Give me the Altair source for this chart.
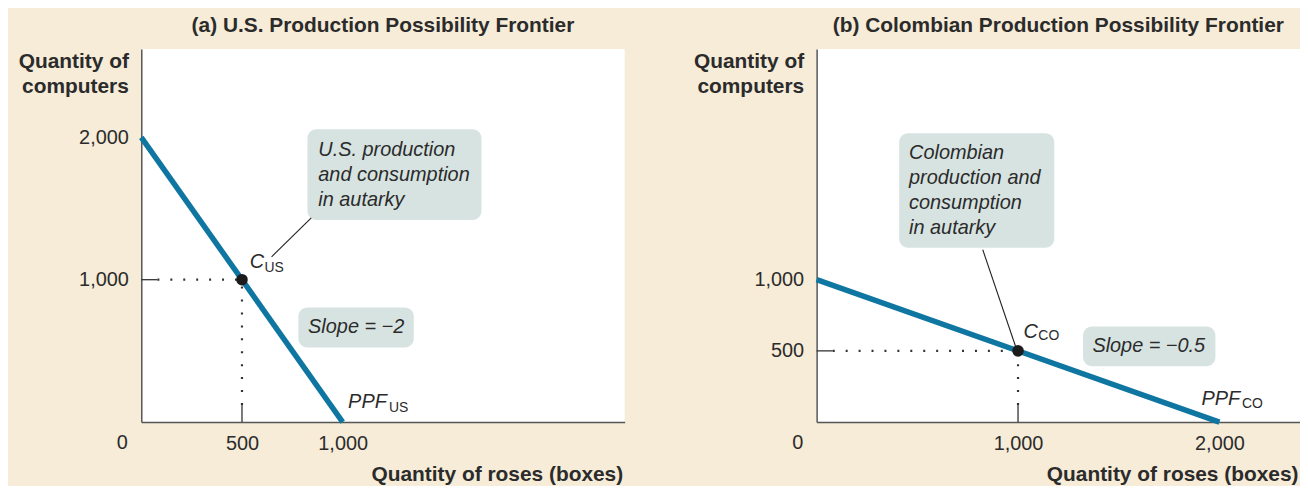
import altair as alt
import pandas as pd

FONT = "Liberation Sans"
BG = "#F6ECD8"
BLUE = "#0E76A0"
BOXC = "#D7E3E1"
INK = "#2B2B2B"

x_domain = [0, 2400]
y_domain = [0, 2620]

# ---------- Panel (a): U.S. ----------
us_title = "(a) U.S. Production Possibility Frontier"
us_ppf_roses = [0, 1000]
us_ppf_computers = [2000, 0]
us_point = [500, 1000]
us_x_ticks = [500, 1000]
us_y_ticks = [1000, 2000]
us_note_lines = ["U.S. production", "and consumption", "in autarky"]
us_note_line_y = [1909, 1734, 1559]
us_note_x = 879
us_box_x = [825, 1689]
us_box_y = [1420, 2056]
us_slope_box_x = [780, 1353]
us_slope_box_y = [524, 804]
us_slope_label = "Slope = \u22122"
us_slope_pos = [1067, 664]
us_leader = [844, 1434, 647, 1161]
us_c_pos = [538, 1126]
us_c_sub_pos = [612, 1084]
us_ppf_pos = [1027, 140]
us_ppf_sub_pos = [1230, 98]
us_sub = "US"

# ---------- Panel (b): Colombia ----------
co_title = "(b) Colombian Production Possibility Frontier"
co_ppf_roses = [0, 2000]
co_ppf_computers = [1000, 0]
co_point = [1000, 500]
co_x_ticks = [1000, 2000]
co_y_ticks = [500, 1000]
co_note_lines = ["Colombian", "production and", "consumption", "in autarky"]
co_note_line_y = [1888, 1713, 1538, 1364]
co_note_x = 459
co_box_x = [410, 1180]
co_box_y = [1224, 2028]
co_slope_box_x = [1323, 1980]
co_slope_box_y = [392, 671]
co_slope_label = "Slope = \u22120.5"
co_slope_pos = [1649, 531]
co_leader = [825, 1210, 988, 531]
co_c_pos = [1027, 629]
co_c_sub_pos = [1101, 601]
co_ppf_pos = [1911, 161]
co_ppf_sub_pos = [2112, 126]
co_sub = "CO"

tick_len_x = 80    # short solid stub along y-axis (roses units)
tick_len_y = 120   # short solid stub along x-axis (computer units)


def make_panel(title, ppf_x, ppf_y, pt, xt, yt, note_lines, note_ys, note_x,
               box_x, box_y, sbox_x, sbox_y, slope_label, slope_pos, leader,
               c_pos, c_sub_pos, ppf_pos, ppf_sub_pos, sub):
    xs = alt.Scale(domain=x_domain, nice=False, zero=True)
    ys = alt.Scale(domain=y_domain, nice=False, zero=True)
    xa = alt.Axis(values=xt, format=",d", title="Quantity of roses (boxes)", ticks=False, grid=False,
                  labelFont=FONT, labelFontSize=20, labelColor=INK, labelPadding=12,
                  labelOverlap=False, domainColor="#555555", domainWidth=1.5,
                  titleFont=FONT, titleFontSize=21, titleFontWeight="bold", titleColor=INK,
                  titleAlign="right", titleBaseline="alphabetic", titleX=484, titleY=59,
                  titleAnchor="end")
    ya = alt.Axis(values=yt, format=",d", title=["Quantity of", "computers"], ticks=False, grid=False,
                  labelFont=FONT, labelFontSize=20, labelColor=INK, labelPadding=13,
                  labelOverlap=False, domainColor="#555555", domainWidth=1.5,
                  titleFont=FONT, titleFontSize=21, titleFontWeight="bold", titleColor=INK,
                  titleAngle=0, titleAlign="right", titleBaseline="top",
                  titleX=-13, titleY=2, titleLineHeight=25)

    def X(f):
        return alt.X(f, type="quantitative", scale=xs, axis=xa)

    def Y(f):
        return alt.Y(f, type="quantitative", scale=ys, axis=ya)

    boxes = pd.DataFrame({"x": [box_x[0], sbox_x[0]], "x2": [box_x[1], sbox_x[1]],
                          "y": [box_y[0], sbox_y[0]], "y2": [box_y[1], sbox_y[1]]})
    box_layer = alt.Chart(boxes).mark_rect(color=BOXC, cornerRadius=9).encode(
        x=X("x"), x2="x2:Q", y=Y("y"), y2="y2:Q")

    ppf = pd.DataFrame({"x": ppf_x, "y": ppf_y})
    line_layer = alt.Chart(ppf).mark_line(color=BLUE, strokeWidth=5.5, strokeCap="butt").encode(
        x=X("x"), y=Y("y"))

    # dotted projections from the autarky point
    dots = pd.DataFrame({"x": [tick_len_x, pt[0]], "x2": [pt[0], pt[0]],
                         "y": [pt[1], tick_len_y], "y2": [pt[1], pt[1]]})
    dot_layer = alt.Chart(dots).mark_rule(color="#333333", strokeWidth=2.2,
                                          strokeDash=[2, 11]).encode(
        x=X("x"), x2="x2:Q", y=Y("y"), y2="y2:Q")

    stubs = pd.DataFrame({"x": [0, pt[0]], "x2": [tick_len_x, pt[0]],
                          "y": [pt[1], 0], "y2": [pt[1], tick_len_y]})
    stub_layer = alt.Chart(stubs).mark_rule(color="#333333", strokeWidth=1.3).encode(
        x=X("x"), x2="x2:Q", y=Y("y"), y2="y2:Q")

    lead = pd.DataFrame({"x": [leader[0]], "y": [leader[1]], "x2": [leader[2]], "y2": [leader[3]]})
    lead_layer = alt.Chart(lead).mark_rule(color="#222222", strokeWidth=1.1).encode(
        x=X("x"), x2="x2:Q", y=Y("y"), y2="y2:Q")

    point = pd.DataFrame({"x": [pt[0]], "y": [pt[1]]})
    point_layer = alt.Chart(point).mark_circle(color="#1b1b1b", size=135, opacity=1).encode(
        x=X("x"), y=Y("y"))

    notes = pd.DataFrame({"x": [note_x] * len(note_lines), "y": note_ys, "t": note_lines})
    note_layer = alt.Chart(notes).mark_text(font=FONT, fontSize=20, fontStyle="italic",
                                            color=INK, align="left", baseline="middle").encode(
        x=X("x"), y=Y("y"), text="t:N")

    slope = pd.DataFrame({"x": [slope_pos[0]], "y": [slope_pos[1]], "t": [slope_label]})
    slope_layer = alt.Chart(slope).mark_text(font=FONT, fontSize=20, fontStyle="italic",
                                             color=INK, align="center", baseline="middle").encode(
        x=X("x"), y=Y("y"), text="t:N")

    mains = pd.DataFrame({"x": [c_pos[0], ppf_pos[0]], "y": [c_pos[1], ppf_pos[1]], "t": ["C", "PPF"]})
    main_layer = alt.Chart(mains).mark_text(font=FONT, fontSize=20, fontStyle="italic",
                                            color=INK, align="left", baseline="middle").encode(
        x=X("x"), y=Y("y"), text="t:N")

    subs = pd.DataFrame({"x": [c_sub_pos[0], ppf_sub_pos[0]], "y": [c_sub_pos[1], ppf_sub_pos[1]],
                         "t": [sub, sub]})
    sub_layer = alt.Chart(subs).mark_text(font=FONT, fontSize=14, color=INK, align="left",
                                          baseline="middle").encode(
        x=X("x"), y=Y("y"), text="t:N")

    zero = pd.DataFrame({"x": [0], "y": [0], "t": ["0"]})
    zero_layer = alt.Chart(zero).mark_text(font=FONT, fontSize=20, color=INK, align="center",
                                           baseline="middle", dx=-19, dy=21).encode(
        x=X("x"), y=Y("y"), text="t:N")

    return alt.layer(box_layer, line_layer, dot_layer, stub_layer, lead_layer, point_layer,
                     note_layer, slope_layer, main_layer, sub_layer, zero_layer).properties(
        width=486, height=375,
        title=alt.TitleParams(text=title, font=FONT, fontSize=21, fontWeight="bold", color=INK,
                              anchor="middle", baseline="top", offset=13, frame="group"))


panel_a = make_panel(us_title, us_ppf_roses, us_ppf_computers, us_point, us_x_ticks, us_y_ticks,
                     us_note_lines, us_note_line_y, us_note_x, us_box_x, us_box_y,
                     us_slope_box_x, us_slope_box_y, us_slope_label, us_slope_pos, us_leader,
                     us_c_pos, us_c_sub_pos, us_ppf_pos, us_ppf_sub_pos, us_sub)
panel_b = make_panel(co_title, co_ppf_roses, co_ppf_computers, co_point, co_x_ticks, co_y_ticks,
                     co_note_lines, co_note_line_y, co_note_x, co_box_x, co_box_y,
                     co_slope_box_x, co_slope_box_y, co_slope_label, co_slope_pos, co_leader,
                     co_c_pos, co_c_sub_pos, co_ppf_pos, co_ppf_sub_pos, co_sub)

chart = alt.hconcat(panel_a, panel_b, spacing=193, bounds="flush").properties(
    background=BG, padding={"left": 10, "top": 6, "right": 0, "bottom": 0}
).configure_view(fill="white", stroke=None)

chart.save("out.html", embed_options={"renderer": "svg", "actions": False})
